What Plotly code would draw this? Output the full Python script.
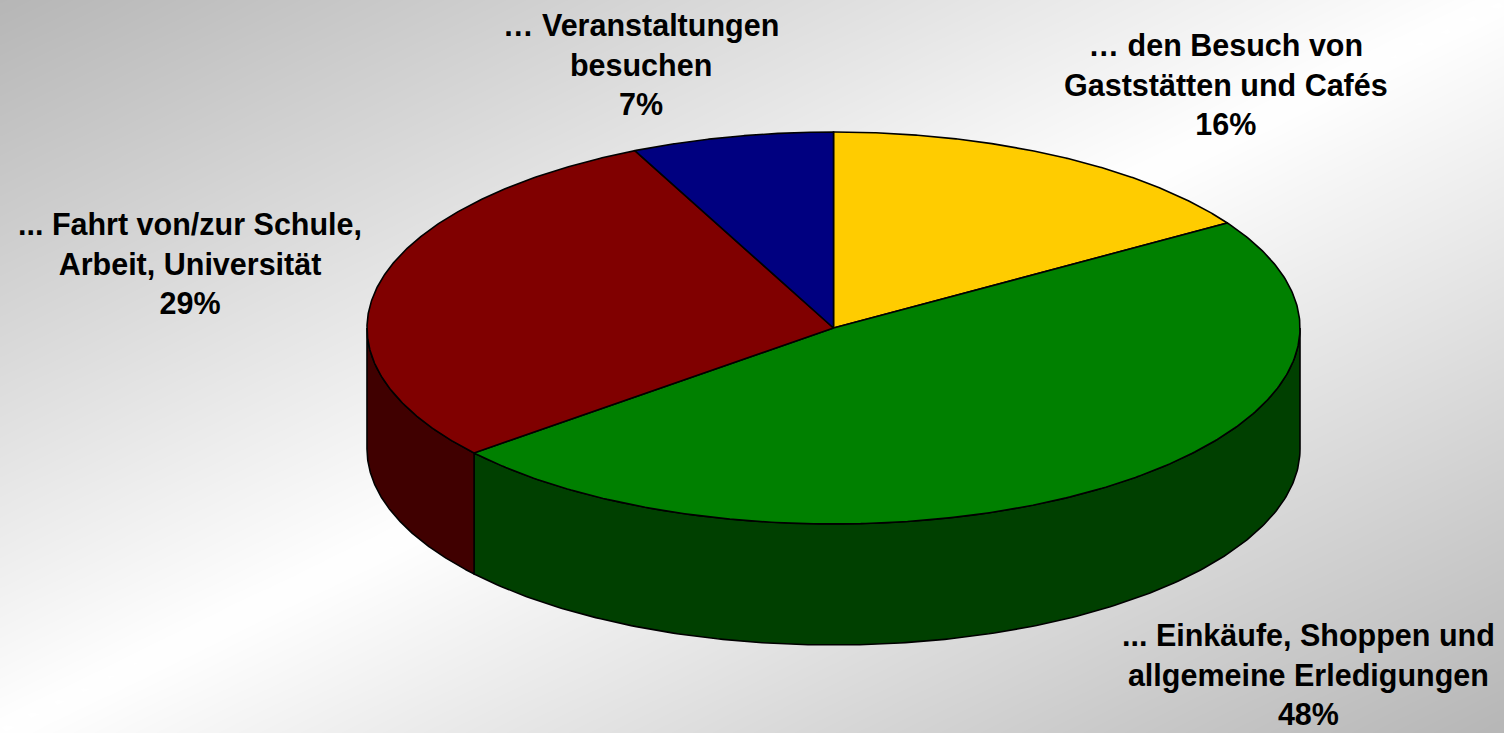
import numpy as np
import plotly.graph_objects as go

# ---- data ----
categories = [
    "… den Besuch von<br>Gaststätten und Cafés",
    "... Einkäufe, Shoppen und<br>allgemeine Erledigungen",
    "... Fahrt von/zur Schule,<br>Arbeit, Universität",
    "… Veranstaltungen<br>besuchen",
]
values = [16, 48, 29, 7]

# ---- styles / layout ----
top_colors = ["#FFCC00", "#008000", "#800000", "#000080"]
side_colors = ["#806600", "#004000", "#400000", "#000040"]
label_x = [1226, 1308, 190, 641]
label_y = [84, 674, 263, 64]

W, H = 1504, 733
cx, cy, rx, ry, depth = 833.5, 328.0, 466.5, 196.0, 121.0

fig = go.Figure()

# background gradient (grey -> white -> grey along the diagonal)
gx = np.linspace(-20, W + 20, 61)
gy = np.linspace(-20, H + 20, 61)
GX, GY = np.meshgrid(gx, gy)
Z = np.clip(np.abs(GX / W + GY / H - 1.0), 0, 1)
fig.add_trace(go.Heatmap(x=gx, y=gy, z=Z, zsmooth="best", showscale=False,
                         colorscale=[[0, "#ffffff"], [1, "#b6b6b6"]],
                         hoverinfo="skip", zmin=0, zmax=1))

total = float(sum(values))
fracs = np.cumsum([0.0] + [v / total for v in values])


def pt(theta, dy=0.0):
    return cx + rx * np.sin(theta), cy - ry * np.cos(theta) + dy


# sides
for i in range(len(values)):
    t0, t1 = 2 * np.pi * fracs[i], 2 * np.pi * fracs[i + 1]
    a, b = max(t0, np.pi / 2), min(t1, 3 * np.pi / 2)
    if a >= b:
        continue
    th = np.linspace(a, b, 200)
    xt, yt = pt(th)
    xb, yb = pt(th[::-1], depth)
    xs = np.concatenate([xt, xb, xt[:1]])
    ys = np.concatenate([yt, yb, yt[:1]])
    fig.add_trace(go.Scatter(x=xs, y=ys, mode="lines", fill="toself",
                             fillcolor=side_colors[i],
                             line=dict(color="black", width=1.6),
                             hoverinfo="skip", showlegend=False))

# tops
for i in range(len(values)):
    t0, t1 = 2 * np.pi * fracs[i], 2 * np.pi * fracs[i + 1]
    th = np.linspace(t0, t1, 300)
    xa, ya = pt(th)
    xs = np.concatenate([[cx], xa, [cx]])
    ys = np.concatenate([[cy], ya, [cy]])
    fig.add_trace(go.Scatter(x=xs, y=ys, mode="lines", fill="toself",
                             fillcolor=top_colors[i],
                             line=dict(color="black", width=1.6),
                             hoverinfo="skip", showlegend=False))

for i, cat in enumerate(categories):
    fig.add_annotation(x=label_x[i], y=label_y[i],
                       text=f"<b>{cat}<br>{values[i]}%</b>",
                       showarrow=False, xanchor="center", yanchor="middle",
                       font=dict(family="Liberation Sans, Arial", size=30.5,
                                 color="black"))

fig.update_layout(
    width=W, height=H,
    margin=dict(l=0, r=0, t=0, b=0),
    paper_bgcolor="white", plot_bgcolor="white",
    xaxis=dict(range=[0, W], visible=False, fixedrange=True),
    yaxis=dict(range=[H, 0], visible=False, fixedrange=True),
    showlegend=False,
)

fig.write_html(
    "out.html",
    config={"displayModeBar": False},
    post_script="document.body.style.margin='0';document.body.style.overflow='hidden';",
)
